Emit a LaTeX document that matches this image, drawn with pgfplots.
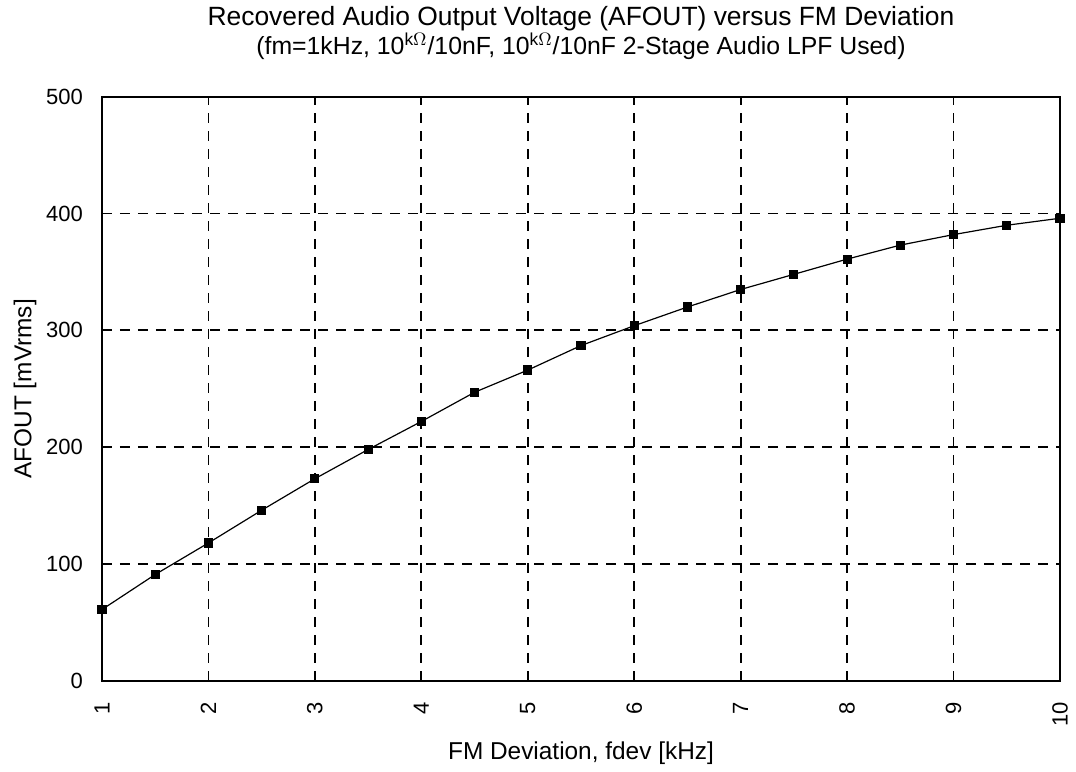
\documentclass[border=0pt]{standalone}
\usepackage{pgfplots}
\pgfplotsset{compat=1.18}
\usepackage{fontspec}
\setmainfont{Liberation Sans}

\begin{document}
\begin{tikzpicture}
\begin{axis}[
  scale only axis,
  width=479pt, height=292pt,
  xmin=1, xmax=10,
  ymin=0, ymax=500,
  xtick={1,2,...,10},
  ytick={0,100,...,500},
  grid=major,
  major grid style={black, line width=0.9pt, dash pattern=on 5pt off 4pt},
  axis line style={black, line width=1pt},
  major tick length=0pt,
  tick label style={font=\fontsize{11}{13}\selectfont},
  /pgf/number format/assume math mode=true,
  xticklabel style={rotate=90, anchor=east, xshift=-7pt},
  yticklabel style={xshift=-6pt},
  title={\fontsize{13.2}{16}\selectfont Recovered Audio Output Voltage (AFOUT) versus FM Deviation\\[0pt]
         \fontsize{12.4}{15}\selectfont (fm=1kHz, 10\textsuperscript{k$\Omega$}/10nF, 10\textsuperscript{k$\Omega$}/10nF 2-Stage Audio LPF Used)},
  title style={align=center, at={(0.5,1)}, anchor=south, yshift=9pt},
  xlabel={FM Deviation, fdev [kHz]},
  ylabel={AFOUT [mVrms]},
  label style={font=\fontsize{12.2}{14}\selectfont},
  xlabel style={yshift=-1pt},
  ylabel style={yshift=-2pt},
  clip=false,
]
\addplot[black, line width=0.6pt, mark=square*, mark size=2pt] coordinates {
  (1, 61) (1.5, 91) (2, 118) (2.5, 146) (3, 173) (3.5, 198) (4, 222)
  (4.5, 247) (5, 266) (5.5, 287) (6, 304) (6.5, 320) (7, 335)
  (7.5, 348) (8, 361) (8.5, 373) (9, 382) (9.5, 390) (10, 396)
};
\end{axis}
\path (-51pt,-43pt) rectangle (487pt,338.5pt);
\end{tikzpicture}
\end{document}
